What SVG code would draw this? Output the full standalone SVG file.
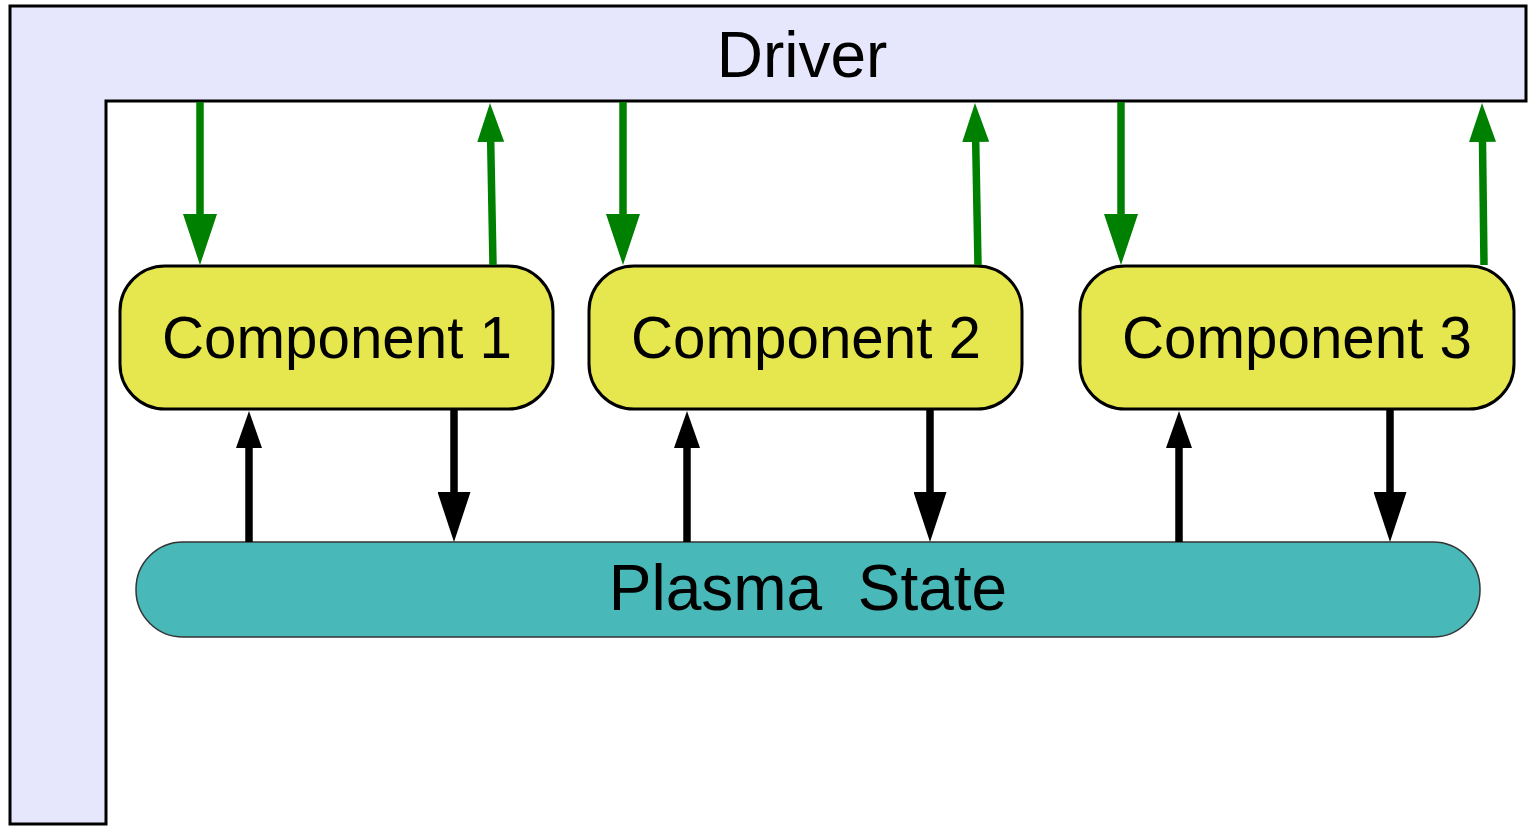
<svg xmlns="http://www.w3.org/2000/svg" width="1528" height="829" viewBox="0 0 1528 829">
  <style>
    .label { font-family: "Liberation Sans", Arial, sans-serif; fill: #000; text-anchor: middle; }
    .comp { fill: #e6e64e; stroke: #000; stroke-width: 3; }
    .green { stroke: #008000; stroke-width: 7.5; fill: none; }
    .black { stroke: #000; stroke-width: 7.5; fill: none; }
  </style>
  <defs>
    <!-- arrowheads start at the line end and extend beyond it -->
    <marker id="gDown" markerUnits="userSpaceOnUse" viewBox="0 0 51 34" refX="0" refY="17" markerWidth="51" markerHeight="34" orient="auto">
      <path d="M0,0 L51,17 L0,34 Z" fill="#008000"/>
    </marker>
    <marker id="gUp" markerUnits="userSpaceOnUse" viewBox="0 0 39 27" refX="0" refY="13.5" markerWidth="39" markerHeight="27" orient="auto">
      <path d="M0,0 L39,13.5 L0,27 Z" fill="#008000"/>
    </marker>
    <marker id="bDown" markerUnits="userSpaceOnUse" viewBox="0 0 50 33" refX="0" refY="16.5" markerWidth="50" markerHeight="33" orient="auto">
      <path d="M0,0 L50,16.5 L0,33 Z" fill="#000"/>
    </marker>
    <marker id="bUp" markerUnits="userSpaceOnUse" viewBox="0 0 37 26" refX="0" refY="13" markerWidth="37" markerHeight="26" orient="auto">
      <path d="M0,0 L37,13 L0,26 Z" fill="#000"/>
    </marker>
  </defs>

  <g id="driver">
    <path d="M10,6 H1526 V101 H106 V824 H10 Z" fill="#e6e6fc" stroke="#000" stroke-width="3"/>
    <text class="label" x="802" y="77" font-size="64">Driver</text>
  </g>

  <g id="component1">
    <rect class="comp" x="120" y="266" width="433" height="143" rx="45"/>
    <text class="label" x="337" y="358" font-size="58.3">Component 1</text>
  </g>
  <g id="component2">
    <rect class="comp" x="589" y="266" width="433" height="143" rx="45"/>
    <text class="label" x="806" y="358" font-size="58.3">Component 2</text>
  </g>
  <g id="component3">
    <rect class="comp" x="1080" y="266" width="434" height="143" rx="45"/>
    <text class="label" x="1297" y="358" font-size="58.3">Component 3</text>
  </g>

  <g id="plasma-state">
    <rect x="136" y="542" width="1344" height="95" rx="47" fill="#48b8b8" stroke="#333" stroke-width="1.5"/>
    <text class="label" x="808" y="610" font-size="64" xml:space="preserve">Plasma  State</text>
  </g>

  <g id="connectors">
    <!-- driver to components -->
    <line class="green" x1="200" y1="102" x2="200" y2="214" marker-end="url(#gDown)"/>
    <line class="green" x1="623" y1="102" x2="623" y2="214" marker-end="url(#gDown)"/>
    <line class="green" x1="1121" y1="102" x2="1121" y2="214" marker-end="url(#gDown)"/>
    <!-- components to driver -->
    <line class="green" x1="493" y1="265" x2="490.7" y2="142" marker-end="url(#gUp)"/>
    <line class="green" x1="978" y1="265" x2="975.7" y2="142" marker-end="url(#gUp)"/>
    <line class="green" x1="1484" y1="265" x2="1482.5" y2="142" marker-end="url(#gUp)"/>
    <!-- plasma state to components -->
    <line class="black" x1="249" y1="542" x2="249" y2="448" marker-end="url(#bUp)"/>
    <line class="black" x1="687" y1="542" x2="687" y2="448" marker-end="url(#bUp)"/>
    <line class="black" x1="1179" y1="542" x2="1179" y2="448" marker-end="url(#bUp)"/>
    <!-- components to plasma state -->
    <line class="black" x1="454" y1="410" x2="454" y2="492" marker-end="url(#bDown)"/>
    <line class="black" x1="930" y1="410" x2="930" y2="492" marker-end="url(#bDown)"/>
    <line class="black" x1="1390" y1="410" x2="1390" y2="492" marker-end="url(#bDown)"/>
  </g>
</svg>
